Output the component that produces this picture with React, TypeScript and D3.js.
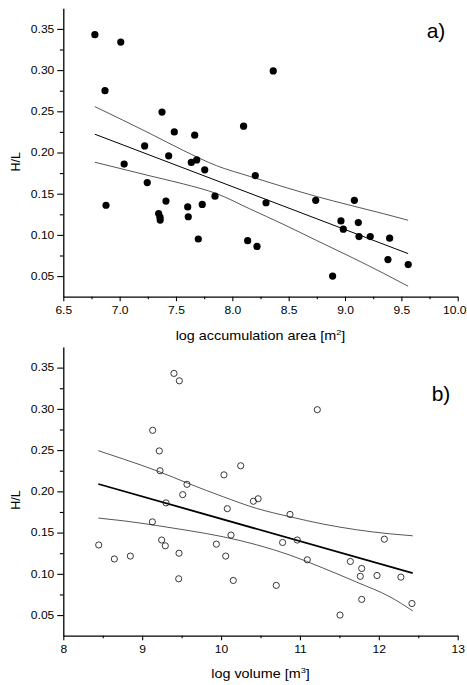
import { useEffect, useRef } from "react";
import * as d3 from "d3";

// panel a) log accumulation area vs H/L
const AREA_X = [
  6.78, 7.01, 6.87, 7.376, 7.485, 7.666, 7.222, 7.435, 7.04, 7.636, 7.684, 7.755, 8.363, 8.1,
  6.879, 7.245, 7.411, 7.346, 7.358, 7.36, 7.604, 7.609, 7.733, 7.846, 7.698, 8.204, 8.299,
  8.74, 9.083, 8.964, 9.118, 8.985, 9.124, 9.224, 9.396, 8.136, 8.219, 9.381, 9.561, 8.89,
];
const AREA_HL = [
  0.343, 0.334, 0.275, 0.249, 0.225, 0.221, 0.208, 0.196, 0.186, 0.188, 0.191, 0.179, 0.299, 0.232,
  0.136, 0.1635, 0.141, 0.126, 0.1215, 0.118, 0.134, 0.122, 0.137, 0.147, 0.095, 0.172, 0.139,
  0.142, 0.142, 0.117, 0.115, 0.107, 0.098, 0.098, 0.096, 0.093, 0.086, 0.07, 0.064, 0.05,
];
const AREA_FIT_X = [6.78, 9.56];
const AREA_FIT_Y = [0.2222, 0.0773];
const AREA_BAND_X = [6.78, 7.27, 7.565, 7.86, 8.155, 8.45, 8.75, 9.045, 9.34, 9.56];
const AREA_BAND_UPPER = [0.2557, 0.223, 0.2025, 0.184, 0.171, 0.1585, 0.1465, 0.136, 0.1258, 0.1178];
const AREA_BAND_LOWER = [0.1882, 0.1716, 0.1619, 0.1501, 0.1316, 0.113, 0.0931, 0.0737, 0.0535, 0.0377];

// panel b) log volume vs H/L
const VOLUME_X = [
  9.403, 9.471, 9.133, 9.217, 9.226, 9.568, 9.514, 9.302, 10.037, 10.079, 11.22, 10.249, 10.41,
  10.47, 8.449, 8.647, 8.85, 9.129, 9.247, 9.293, 9.467, 9.463, 9.94, 10.059, 10.126, 10.155,
  10.874, 12.07, 10.78, 10.966, 11.093, 11.639, 11.783, 11.765, 11.977, 12.28, 10.7, 11.783,
  12.42, 11.508,
];
const VOLUME_HL = [
  0.343, 0.334, 0.274, 0.249, 0.225, 0.2085, 0.196, 0.186, 0.22, 0.179, 0.299, 0.231, 0.188,
  0.191, 0.135, 0.118, 0.1215, 0.163, 0.141, 0.134, 0.125, 0.094, 0.136, 0.1215, 0.147, 0.092,
  0.172, 0.142, 0.138, 0.141, 0.117, 0.115, 0.1065, 0.097, 0.098, 0.096, 0.086, 0.069, 0.064,
  0.05,
];
const VOLUME_FIT_X = [8.444, 12.43];
const VOLUME_FIT_Y = [0.2089, 0.1008];
const VOLUME_BAND_X = [8.444, 8.761, 9.184, 9.606, 10.028, 10.452, 10.874, 11.296, 11.72, 12.142, 12.43];
const VOLUME_BAND_UPPER = [0.2493, 0.2392, 0.225, 0.2088, 0.1934, 0.1793, 0.1692, 0.1603, 0.1534, 0.1485, 0.1461];
const VOLUME_BAND_LOWER = [0.1676, 0.1643, 0.1586, 0.1522, 0.1449, 0.1352, 0.1227, 0.1069, 0.0899, 0.0721, 0.0551];

// ticks
const HL_TICKS = [0.05, 0.1, 0.15, 0.2, 0.25, 0.3, 0.35];
const HL_MINOR = [0.075, 0.125, 0.175, 0.225, 0.275, 0.325];
const AREA_TICKS = [6.5, 7.0, 7.5, 8.0, 8.5, 9.0, 9.5, 10.0];
const AREA_MINOR = [6.75, 7.25, 7.75, 8.25, 8.75, 9.25, 9.75];
const VOLUME_TICKS = [8, 9, 10, 11, 12, 13];
const VOLUME_MINOR = [8.5, 9.5, 10.5, 11.5, 12.5];

const FONT = "'Liberation Sans', Arial, sans-serif";
const W = 467;
const LEFT = 63.3;
const RIGHT = 457.7;
const SX = 1.15; // the glyphs of the original are a bit wide

function drawPanel(svg, p) {
  const x = d3.scaleLinear().domain(p.xDomain).range([LEFT, RIGHT]);
  const y = d3.scaleLinear().domain([0.025, 0.375]).range([p.bottom, p.top]);
  const g = svg.append("g");

  // minor ticks
  g.append("g")
    .attr("transform", "translate(0," + p.bottom + ")")
    .call(d3.axisBottom(x).tickValues(p.xMinor).tickSize(2.5).tickFormat(() => ""))
    .call((a) => a.select(".domain").remove());
  g.append("g")
    .attr("transform", "translate(" + LEFT + ",0)")
    .call(d3.axisLeft(y).tickValues(HL_MINOR).tickSize(3.5).tickFormat(() => ""))
    .call((a) => a.select(".domain").remove());

  // major axes
  const xAxis = g
    .append("g")
    .attr("transform", "translate(0," + p.bottom + ")")
    .call(d3.axisBottom(x).tickValues(p.xTicks).tickSize(4.5).tickSizeOuter(0).tickPadding(5.5).tickFormat(d3.format(p.xFormat)));
  const yAxis = g
    .append("g")
    .attr("transform", "translate(" + LEFT + ",0)")
    .call(d3.axisLeft(y).tickValues(HL_TICKS).tickSize(6).tickSizeOuter(0).tickFormat(d3.format(".2f")));

  g.selectAll(".tick line").attr("stroke", "#000").attr("stroke-width", 1.1);
  g.selectAll(".domain").attr("stroke", "#000").attr("stroke-width", 1.3);
  [xAxis, yAxis].forEach((a) =>
    a.attr("font-family", FONT).attr("font-size", 10.5).selectAll("text").attr("fill", "#000")
  );
  xAxis.selectAll("text").attr("transform", "scale(" + SX + ",1)");
  // keep the last label inside the page
  xAxis.selectAll("text").each(function (d) {
    const box = this.getBBox();
    const right = x(d) + (box.x + box.width) * SX;
    if (right > W - 1) select(this).attr("x", (W - 1 - right) / SX);
  });
  yAxis.selectAll("text").attr("x", -9 / SX).attr("transform", "scale(" + SX + ",1)");

  // confidence band + fit
  const band = d3
    .line()
    .x((d) => x(d[0]))
    .y((d) => y(d[1]))
    .curve(d3.curveMonotoneX);
  [p.bandUpper, p.bandLower].forEach((vals) => {
    g.append("path")
      .datum(p.bandX.map((v, i) => [v, vals[i]]))
      .attr("d", band)
      .attr("fill", "none")
      .attr("stroke", "#444")
      .attr("stroke-width", 0.9);
  });
  g.append("path")
    .datum(p.fitX.map((v, i) => [v, p.fitY[i]]))
    .attr("d", d3.line().x((d) => x(d[0])).y((d) => y(d[1])))
    .attr("fill", "none")
    .attr("stroke", "#000")
    .attr("stroke-width", p.fitWidth);

  // points
  g.append("g")
    .selectAll("circle")
    .data(p.px.map((v, i) => [v, p.py[i]]))
    .join("circle")
    .attr("cx", (d) => x(d[0]))
    .attr("cy", (d) => y(d[1]))
    .attr("r", p.filled ? 3.6 : 3.1)
    .attr("fill", p.filled ? "#000" : "none")
    .attr("stroke", p.filled ? "none" : "#222")
    .attr("stroke-width", 0.9);

  // labels
  const title = g
    .append("text")
    .attr("transform", "translate(" + (LEFT + RIGHT) / 2 + "," + p.titleY + ") scale(" + SX + ",1)")
    .attr("text-anchor", "middle")
    .attr("font-family", FONT)
    .attr("font-size", 12.5);
  title.append("tspan").text(p.title + " [m");
  title.append("tspan").attr("dy", -5).attr("font-size", 8).text(p.sup);
  title.append("tspan").attr("dy", 5).text("]");

  g.append("text")
    .attr("transform", "translate(20," + p.hlY + ") rotate(-90)")
    .attr("text-anchor", "middle")
    .attr("font-family", FONT)
    .attr("font-size", 12.5)
    .text("H/L");

  g.append("text")
    .attr("x", p.tagX)
    .attr("y", p.tagY)
    .attr("font-family", FONT)
    .attr("font-size", 21)
    .text(p.tag);
}

const select = d3.select;

export default function App() {
  const svgRef = useRef(null);

  useEffect(() => {
    const svg = d3.select(svgRef.current);
    svg.selectAll("*").remove();
    svg.append("rect").attr("width", 467).attr("height", 685).attr("fill", "#fff");

    drawPanel(svg, {
      top: 8.3,
      bottom: 296.7,
      xDomain: [6.5, 10],
      xTicks: AREA_TICKS,
      xMinor: AREA_MINOR,
      xFormat: ".1f",
      px: AREA_X,
      py: AREA_HL,
      filled: true,
      fitX: AREA_FIT_X,
      fitY: AREA_FIT_Y,
      fitWidth: 1,
      bandX: AREA_BAND_X,
      bandUpper: AREA_BAND_UPPER,
      bandLower: AREA_BAND_LOWER,
      title: "log accumulation area",
      sup: "2",
      titleY: 340,
      hlY: 161.7,
      tag: "a)",
      tagX: 426.7,
      tagY: 37.5,
    });

    drawPanel(svg, {
      top: 347,
      bottom: 635.7,
      xDomain: [8, 13],
      xTicks: VOLUME_TICKS,
      xMinor: VOLUME_MINOR,
      xFormat: "d",
      px: VOLUME_X,
      py: VOLUME_HL,
      filled: false,
      fitX: VOLUME_FIT_X,
      fitY: VOLUME_FIT_Y,
      fitWidth: 1.8,
      bandX: VOLUME_BAND_X,
      bandUpper: VOLUME_BAND_UPPER,
      bandLower: VOLUME_BAND_LOWER,
      title: "log volume",
      sup: "3",
      titleY: 678,
      hlY: 500,
      tag: "b)",
      tagX: 431.7,
      tagY: 400.5,
    });
  }, []);

  return (
    <svg
      ref={svgRef}
      width={467}
      height={685}
      style={{ position: "absolute", left: 0, top: 0 }}
    ></svg>
  );
}
